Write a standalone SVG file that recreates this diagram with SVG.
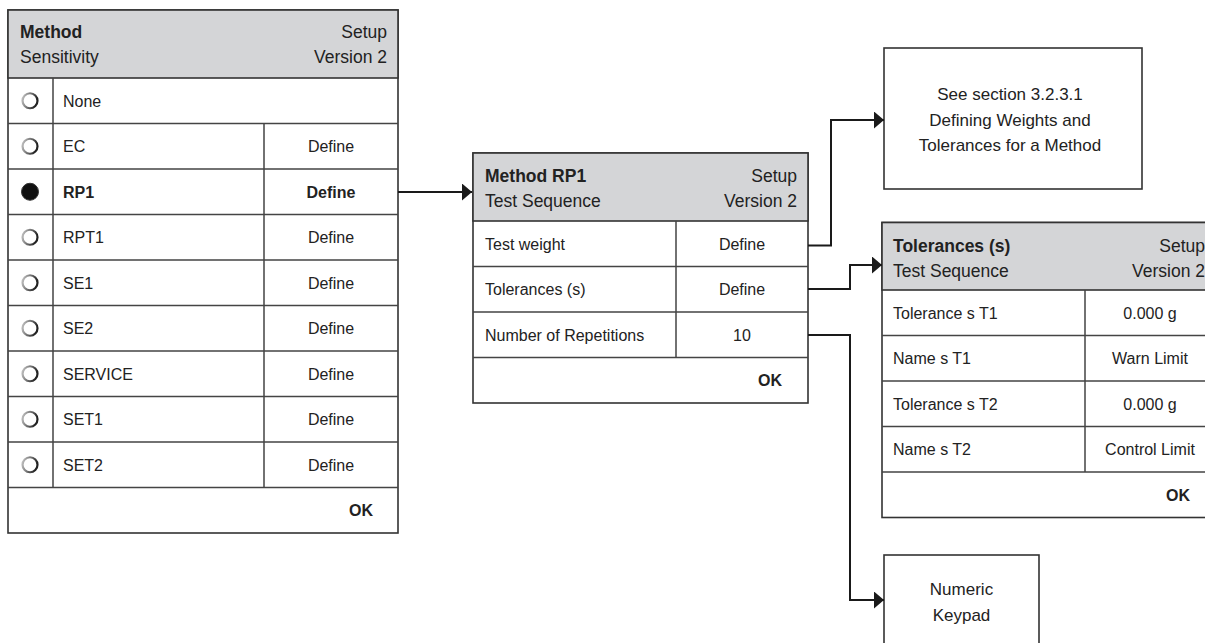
<svg xmlns="http://www.w3.org/2000/svg" width="1205" height="643" viewBox="0 0 1205 643">
<style>
  text { font-family: "Liberation Sans", Arial, sans-serif; fill: #222; }
  .hd { font-size: 17.5px; }
  .b { font-weight: bold; }
  .r { font-size: 16px; }
  .bx { font-size: 17px; text-anchor: middle; }
  .end { text-anchor: end; }
  .mid { text-anchor: middle; }
  .frame { fill: #fff; stroke: #333; stroke-width: 1.6; }
  .head { fill: #d4d5d7; stroke: #333; stroke-width: 1.6; }
  .grid { stroke: #444; stroke-width: 1.5; fill: none; }
  .conn { stroke: #1a1a1a; stroke-width: 2; fill: none; marker-end: url(#arr); }
  .radio { fill: #fff; stroke: url(#ring); stroke-width: 2.2; }
  .radio-on { fill: #111; stroke: #333; stroke-width: 1; }
</style>
<defs>
  <marker id="arr" markerUnits="userSpaceOnUse" markerWidth="12" markerHeight="18" refX="10" refY="8.5" orient="auto">
    <path d="M0,0 L10,8.5 L0,17 Z" fill="#1a1a1a"/>
  </marker>
  <linearGradient id="ring" x1="0" y1="0" x2="1" y2="0.3">
    <stop offset="0" stop-color="#c8c8c8"/>
    <stop offset="0.6" stop-color="#666"/>
    <stop offset="1" stop-color="#222"/>
  </linearGradient>
</defs>

<!-- Left panel: Method Sensitivity -->
<g id="method-sensitivity">
  <rect class="frame" x="8" y="10" width="390" height="523"/>
  <rect class="head" x="8" y="10" width="390" height="68"/>
  <text class="hd b" x="20" y="38">Method</text>
  <text class="hd" x="20" y="63">Sensitivity</text>
  <text class="hd end" x="387" y="38">Setup</text>
  <text class="hd end" x="387" y="63">Version 2</text>
  <path class="grid" d="M8,123.5H398 M8,169H398 M8,214.5H398 M8,260H398 M8,305.5H398 M8,351H398 M8,396.5H398 M8,442H398 M8,487.5H398 M53,78V487.5 M264,123.5V487.5"/>
  <circle class="radio" cx="30" cy="100.75" r="7.5"/>
  <circle class="radio" cx="30" cy="146.25" r="7.5"/>
  <circle class="radio-on" cx="30" cy="191.75" r="8.5"/>
  <circle class="radio" cx="30" cy="237.25" r="7.5"/>
  <circle class="radio" cx="30" cy="282.75" r="7.5"/>
  <circle class="radio" cx="30" cy="328.25" r="7.5"/>
  <circle class="radio" cx="30" cy="373.75" r="7.5"/>
  <circle class="radio" cx="30" cy="419.25" r="7.5"/>
  <circle class="radio" cx="30" cy="464.75" r="7.5"/>
  <text class="r" x="63" y="106.5">None</text>
  <text class="r" x="63" y="152">EC</text>
  <text class="r b" x="63" y="197.5">RP1</text>
  <text class="r" x="63" y="243">RPT1</text>
  <text class="r" x="63" y="288.5">SE1</text>
  <text class="r" x="63" y="334">SE2</text>
  <text class="r" x="63" y="379.5">SERVICE</text>
  <text class="r" x="63" y="425">SET1</text>
  <text class="r" x="63" y="470.5">SET2</text>
  <text class="r mid" x="331" y="152">Define</text>
  <text class="r mid b" x="331" y="197.5">Define</text>
  <text class="r mid" x="331" y="243">Define</text>
  <text class="r mid" x="331" y="288.5">Define</text>
  <text class="r mid" x="331" y="334">Define</text>
  <text class="r mid" x="331" y="379.5">Define</text>
  <text class="r mid" x="331" y="425">Define</text>
  <text class="r mid" x="331" y="470.5">Define</text>
  <text class="r b end" x="373" y="516">OK</text>
</g>

<!-- Middle panel: Method RP1 -->
<g id="method-rp1">
  <rect class="frame" x="473" y="153" width="335" height="250"/>
  <rect class="head" x="473" y="153" width="335" height="68"/>
  <text class="hd b" x="485" y="182">Method RP1</text>
  <text class="hd" x="485" y="207">Test Sequence</text>
  <text class="hd end" x="797" y="182">Setup</text>
  <text class="hd end" x="797" y="207">Version 2</text>
  <path class="grid" d="M473,266.5H808 M473,312H808 M473,357.5H808 M676,221V357.5"/>
  <text class="r" x="485" y="249.5">Test weight</text>
  <text class="r" x="485" y="295">Tolerances (s)</text>
  <text class="r" x="485" y="340.5">Number of Repetitions</text>
  <text class="r mid" x="742" y="249.5">Define</text>
  <text class="r mid" x="742" y="295">Define</text>
  <text class="r mid" x="742" y="340.5">10</text>
  <text class="r b end" x="782" y="386">OK</text>
</g>

<!-- See section box -->
<g id="see-section">
  <rect class="frame" x="884" y="48" width="258" height="141"/>
  <text class="bx" x="1010" y="100">See section 3.2.3.1</text>
  <text class="bx" x="1010" y="125.5">Defining Weights and</text>
  <text class="bx" x="1010" y="151">Tolerances for a Method</text>
</g>

<!-- Tolerances panel -->
<g id="tolerances">
  <rect class="frame" x="882" y="222.5" width="333" height="295"/>
  <rect class="head" x="882" y="222.5" width="333" height="67.5"/>
  <text class="hd b" x="893" y="252">Tolerances (s)</text>
  <text class="hd" x="893" y="277">Test Sequence</text>
  <text class="hd end" x="1205" y="252">Setup</text>
  <text class="hd end" x="1205" y="277">Version 2</text>
  <path class="grid" d="M882,335.5H1215 M882,381H1215 M882,426.5H1215 M882,472H1215 M1085,290V472"/>
  <text class="r" x="893" y="318.5">Tolerance s T1</text>
  <text class="r" x="893" y="364">Name s T1</text>
  <text class="r" x="893" y="409.5">Tolerance s T2</text>
  <text class="r" x="893" y="455">Name s T2</text>
  <text class="r mid" x="1150" y="318.5">0.000 g</text>
  <text class="r mid" x="1150" y="364">Warn Limit</text>
  <text class="r mid" x="1150" y="409.5">0.000 g</text>
  <text class="r mid" x="1150" y="455">Control Limit</text>
  <text class="r b end" x="1190" y="500.5">OK</text>
</g>

<!-- Numeric keypad box -->
<g id="numeric-keypad">
  <rect class="frame" x="884" y="555" width="155" height="92"/>
  <text class="bx" x="961.5" y="595">Numeric</text>
  <text class="bx" x="961.5" y="621">Keypad</text>
</g>

<!-- Connectors -->
<g id="connectors">
  <path class="conn" d="M398,192H472"/>
  <path class="conn" d="M808,245.5H831V120H884"/>
  <path class="conn" d="M808,289H850V265H882"/>
  <path class="conn" d="M808,335H850V600H884"/>
</g>
</svg>
